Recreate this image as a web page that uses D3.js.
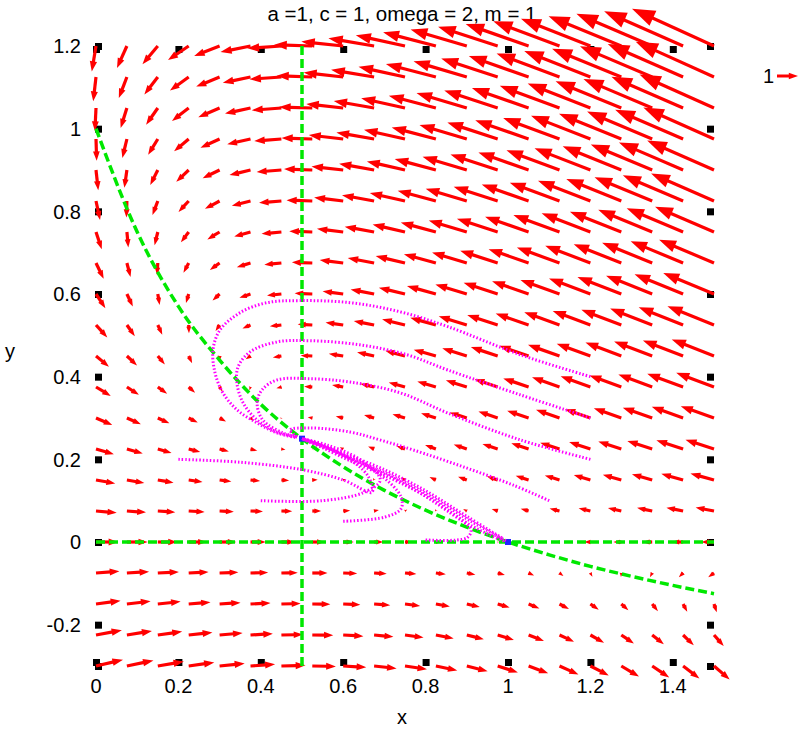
<!DOCTYPE html>
<html>
<head>
<meta charset="utf-8">
<script src="https://d3js.org/d3.v7.min.js"></script>
<style>
  body { margin: 0; background: #fff; }
  text { font-family: 'Liberation Sans', Arial, sans-serif; fill: #000; }
</style>
</head>
<body>
<svg width="799" height="729"></svg>
<script>
// DATA ========================================================
const title = "a =1, c = 1, omega = 2, m = 1";
const xTicks = [0, 0.2, 0.4, 0.6, 0.8, 1, 1.2, 1.4];
const yTicks = [-0.2, 0, 0.2, 0.4, 0.6, 0.8, 1, 1.2];

// grid of the vector field
const gridX = [0, 0.075, 0.15, 0.225, 0.3, 0.375, 0.45, 0.525, 0.6, 0.675, 0.75,
               0.825, 0.9, 0.975, 1.05, 1.125, 1.2, 1.275, 1.35, 1.425, 1.5];
const gridY = [-0.3, -0.225, -0.15, -0.075, 0, 0.075, 0.15, 0.225, 0.3, 0.375, 0.45,
               0.525, 0.6, 0.675, 0.75, 0.825, 0.9, 0.975, 1.05, 1.125, 1.2];

// x component, one row per gridY value
const fieldU = [
 [1.30,1.27,1.24,1.21,1.18,1.15,1.12,1.09,1.06,1.03,1.00,0.97,0.94,0.91,0.88,0.85,0.82,0.79,0.76,0.73,0.70],
 [1.23,1.18,1.14,1.10,1.06,1.02,0.98,0.94,0.90,0.85,0.81,0.77,0.73,0.69,0.65,0.61,0.57,0.52,0.48,0.44,0.40],
 [1.15,1.10,1.05,0.99,0.94,0.89,0.84,0.78,0.73,0.68,0.63,0.57,0.52,0.47,0.42,0.36,0.31,0.26,0.21,0.15,0.10],
 [1.08,1.01,0.95,0.88,0.82,0.76,0.69,0.63,0.57,0.50,0.44,0.37,0.31,0.25,0.18,0.12,0.06,-0.01,-0.07,-0.14,-0.20],
 [1.00,0.93,0.85,0.78,0.70,0.63,0.55,0.48,0.40,0.33,0.25,0.18,0.10,0.03,-0.05,-0.13,-0.20,-0.28,-0.35,-0.43,-0.50],
 [0.93,0.84,0.75,0.67,0.58,0.49,0.41,0.32,0.24,0.15,0.06,-0.02,-0.11,-0.20,-0.28,-0.37,-0.46,-0.54,-0.63,-0.71,-0.80],
 [0.85,0.75,0.66,0.56,0.46,0.36,0.27,0.17,0.07,-0.03,-0.13,-0.22,-0.32,-0.42,-0.52,-0.61,-0.71,-0.81,-0.91,-1.00,-1.10],
 [0.78,0.67,0.56,0.45,0.34,0.23,0.12,0.01,-0.10,-0.20,-0.31,-0.42,-0.53,-0.64,-0.75,-0.86,-0.97,-1.07,-1.18,-1.29,-1.40],
 [0.70,0.58,0.46,0.34,0.22,0.10,-0.02,-0.14,-0.26,-0.38,-0.50,-0.62,-0.74,-0.86,-0.98,-1.10,-1.22,-1.34,-1.46,-1.58,-1.70],
 [0.63,0.49,0.36,0.23,0.10,-0.03,-0.16,-0.29,-0.43,-0.56,-0.69,-0.82,-0.95,-1.08,-1.21,-1.34,-1.48,-1.61,-1.74,-1.87,-2.00],
 [0.55,0.41,0.27,0.12,-0.02,-0.16,-0.31,-0.45,-0.59,-0.73,-0.88,-1.02,-1.16,-1.30,-1.45,-1.59,-1.73,-1.87,-2.02,-2.16,-2.30],
 [0.48,0.32,0.17,0.01,-0.14,-0.29,-0.45,-0.60,-0.76,-0.91,-1.06,-1.22,-1.37,-1.52,-1.68,-1.83,-1.99,-2.14,-2.29,-2.45,-2.60],
 [0.40,0.24,0.07,-0.10,-0.26,-0.43,-0.59,-0.76,-0.92,-1.09,-1.25,-1.42,-1.58,-1.75,-1.91,-2.08,-2.24,-2.41,-2.57,-2.74,-2.90],
 [0.33,0.15,-0.03,-0.20,-0.38,-0.56,-0.73,-0.91,-1.09,-1.26,-1.44,-1.61,-1.79,-1.97,-2.14,-2.32,-2.50,-2.67,-2.85,-3.02,-3.20],
 [0.25,0.06,-0.13,-0.31,-0.50,-0.69,-0.88,-1.06,-1.25,-1.44,-1.63,-1.81,-2.00,-2.19,-2.38,-2.56,-2.75,-2.94,-3.13,-3.31,-3.50],
 [0.18,-0.02,-0.22,-0.42,-0.62,-0.82,-1.02,-1.22,-1.42,-1.61,-1.81,-2.01,-2.21,-2.41,-2.61,-2.81,-3.01,-3.20,-3.40,-3.60,-3.80],
 [0.10,-0.11,-0.32,-0.53,-0.74,-0.95,-1.16,-1.37,-1.58,-1.79,-2.00,-2.21,-2.42,-2.63,-2.84,-3.05,-3.26,-3.47,-3.68,-3.89,-4.10],
 [0.03,-0.20,-0.42,-0.64,-0.86,-1.08,-1.30,-1.52,-1.75,-1.97,-2.19,-2.41,-2.63,-2.85,-3.07,-3.29,-3.52,-3.74,-3.96,-4.18,-4.40],
 [-0.05,-0.28,-0.52,-0.75,-0.98,-1.21,-1.45,-1.68,-1.91,-2.14,-2.38,-2.61,-2.84,-3.07,-3.31,-3.54,-3.77,-4.00,-4.24,-4.47,-4.70],
 [-0.13,-0.37,-0.61,-0.86,-1.10,-1.34,-1.59,-1.83,-2.08,-2.32,-2.56,-2.81,-3.05,-3.29,-3.54,-3.78,-4.03,-4.27,-4.51,-4.76,-5.00],
 [-0.20,-0.46,-0.71,-0.97,-1.22,-1.48,-1.73,-1.99,-2.24,-2.50,-2.75,-3.01,-3.26,-3.52,-3.77,-4.03,-4.28,-4.54,-4.79,-5.05,-5.30]
];

// y component, one row per gridY value
const fieldV = [
 [0.30,0.26,0.21,0.17,0.12,0.08,0.03,-0.02,-0.06,-0.11,-0.15,-0.20,-0.24,-0.29,-0.33,-0.38,-0.42,-0.47,-0.51,-0.56,-0.60],
 [0.23,0.19,0.16,0.12,0.09,0.06,0.02,-0.01,-0.05,-0.08,-0.11,-0.15,-0.18,-0.21,-0.25,-0.28,-0.32,-0.35,-0.38,-0.42,-0.45],
 [0.15,0.13,0.11,0.08,0.06,0.04,0.02,-0.01,-0.03,-0.05,-0.08,-0.10,-0.12,-0.14,-0.17,-0.19,-0.21,-0.23,-0.26,-0.28,-0.30],
 [0.08,0.06,0.05,0.04,0.03,0.02,0.01,0.00,-0.02,-0.03,-0.04,-0.05,-0.06,-0.07,-0.08,-0.09,-0.11,-0.12,-0.13,-0.14,-0.15],
 [0,0,0,0,0,0,0,0,0,0,0,0,0,0,0,0,0,0,0,0,0],
 [-0.08,-0.06,-0.05,-0.04,-0.03,-0.02,-0.01,0.00,0.02,0.03,0.04,0.05,0.06,0.07,0.08,0.09,0.11,0.12,0.13,0.14,0.15],
 [-0.15,-0.13,-0.11,-0.08,-0.06,-0.04,-0.02,0.01,0.03,0.05,0.08,0.10,0.12,0.14,0.17,0.19,0.21,0.23,0.26,0.28,0.30],
 [-0.23,-0.19,-0.16,-0.12,-0.09,-0.06,-0.02,0.01,0.05,0.08,0.11,0.15,0.18,0.21,0.25,0.28,0.32,0.35,0.38,0.42,0.45],
 [-0.30,-0.26,-0.21,-0.17,-0.12,-0.08,-0.03,0.02,0.06,0.11,0.15,0.20,0.24,0.29,0.33,0.38,0.42,0.47,0.51,0.56,0.60],
 [-0.38,-0.32,-0.26,-0.21,-0.15,-0.09,-0.04,0.02,0.08,0.13,0.19,0.24,0.30,0.36,0.41,0.47,0.53,0.58,0.64,0.69,0.75],
 [-0.45,-0.38,-0.32,-0.25,-0.18,-0.11,-0.05,0.02,0.09,0.16,0.23,0.29,0.36,0.43,0.50,0.56,0.63,0.70,0.77,0.83,0.90],
 [-0.53,-0.45,-0.37,-0.29,-0.21,-0.13,-0.05,0.03,0.11,0.18,0.26,0.34,0.42,0.50,0.58,0.66,0.74,0.81,0.89,0.97,1.05],
 [-0.60,-0.51,-0.42,-0.33,-0.24,-0.15,-0.06,0.03,0.12,0.21,0.30,0.39,0.48,0.57,0.66,0.75,0.84,0.93,1.02,1.11,1.20],
 [-0.68,-0.57,-0.47,-0.37,-0.27,-0.17,-0.07,0.03,0.14,0.24,0.34,0.44,0.54,0.64,0.74,0.84,0.95,1.05,1.15,1.25,1.35],
 [-0.75,-0.64,-0.53,-0.41,-0.30,-0.19,-0.08,0.04,0.15,0.26,0.38,0.49,0.60,0.71,0.83,0.94,1.05,1.16,1.28,1.39,1.50],
 [-0.83,-0.70,-0.58,-0.45,-0.33,-0.21,-0.08,0.04,0.17,0.29,0.41,0.54,0.66,0.78,0.91,1.03,1.16,1.28,1.40,1.53,1.65],
 [-0.90,-0.77,-0.63,-0.50,-0.36,-0.23,-0.09,0.05,0.18,0.32,0.45,0.59,0.72,0.86,0.99,1.13,1.26,1.40,1.53,1.67,1.80],
 [-0.98,-0.83,-0.68,-0.54,-0.39,-0.24,-0.10,0.05,0.20,0.34,0.49,0.63,0.78,0.93,1.07,1.22,1.37,1.51,1.66,1.80,1.95],
 [-1.05,-0.89,-0.74,-0.58,-0.42,-0.26,-0.11,0.05,0.21,0.37,0.53,0.68,0.84,1.00,1.16,1.31,1.47,1.63,1.79,1.94,2.10],
 [-1.13,-0.96,-0.79,-0.62,-0.45,-0.28,-0.11,0.06,0.23,0.39,0.56,0.73,0.90,1.07,1.24,1.41,1.58,1.74,1.91,2.08,2.25],
 [-1.20,-1.02,-0.84,-0.66,-0.48,-0.30,-0.12,0.06,0.24,0.42,0.60,0.78,0.96,1.14,1.32,1.50,1.68,1.86,2.04,2.22,2.40]
];

// nullclines (green)
const nullCurveX = [0, 0.1, 0.2, 0.3, 0.4, 0.5, 0.6, 0.7, 0.8, 0.9, 1.0, 1.1, 1.2, 1.3, 1.4, 1.5];
const nullCurveY = [1.0, 0.75, 0.57, 0.44, 0.333, 0.25, 0.182, 0.125, 0.077, 0.036, 0, -0.031, -0.059, -0.083, -0.105, -0.125];
const nullVertical = [[0.5, -0.3], [0.5, 1.2]];
const nullHorizontal = [[0, 0], [1.5, 0]];

// fixed points
const fixedPoints = [[1, 0], [0.5, 0.25]];

// trajectories (magenta)
const traj1 = [[1.2,0.4],[1.03,0.453],[0.854,0.521],[0.738,0.557],[0.617,0.579],[0.495,0.584],[0.415,0.579],
  [0.35,0.555],[0.301,0.513],[0.284,0.465],[0.289,0.409],[0.308,0.361],[0.342,0.32],[0.391,0.288],[0.439,0.264],[0.488,0.252]];
const traj2 = [[1.2,0.3],[1.03,0.356],[0.854,0.416],[0.755,0.453],[0.641,0.477],[0.519,0.487],[0.439,0.484],
  [0.374,0.46],[0.345,0.424],[0.342,0.385],[0.357,0.337],[0.391,0.295],[0.439,0.266],[0.488,0.254]];
const traj3 = [[1.2,0.2],[1.03,0.247],[0.854,0.312],[0.738,0.361],[0.617,0.387],[0.519,0.395],[0.439,0.392],
  [0.403,0.368],[0.391,0.337],[0.405,0.295],[0.454,0.264],[0.488,0.254]];
const traj4 = [[1.1,0.1],[1.012,0.138],[0.891,0.182],[0.769,0.223],[0.689,0.247],[0.617,0.266],[0.519,0.276],
  [0.471,0.271],[0.488,0.254]];
const traj5 = [[0.2,0.2],[0.35,0.193],[0.5,0.175],[0.6,0.15],[0.67,0.12],[0.66,0.16],[0.6,0.21],[0.53,0.24],[0.5,0.25]];
const traj6 = [[0.4,0.1],[0.55,0.1],[0.65,0.12],[0.69,0.15],[0.64,0.2],[0.56,0.235],[0.5,0.25]];
const traj7 = [[0.6,0.05],[0.7,0.06],[0.74,0.08],[0.74,0.11],[0.68,0.17],[0.58,0.22],[0.5,0.25]];
const traj8 = [[0.8,0.005],[0.9,0.01],[0.91,0.03],[0.86,0.07],[0.75,0.14],[0.62,0.2],[0.5,0.25]];
const traj9 = [[0.995,0.003],[0.91,0.05],[0.81,0.112],[0.714,0.162],[0.617,0.203],[0.544,0.235],[0.5,0.25]];
const traj10 = [[0.985,0.01],[0.9,0.062],[0.8,0.124],[0.7,0.175],[0.6,0.215],[0.535,0.24],[0.5,0.25]];
const traj11 = [[0.99,0.002],[0.91,0.04],[0.82,0.1],[0.72,0.152],[0.62,0.195],[0.55,0.228],[0.5,0.25]];
const trajectories = [traj1, traj2, traj3, traj4, traj5, traj6, traj7, traj8, traj9, traj10, traj11];

// SETUP =======================================================
const svg = d3.select("svg");
const x = d3.scaleLinear().domain([0, 1.5]).range([96, 714]);
const y = d3.scaleLinear().domain([-0.3, 1.2]).range([666, 46]);
const red = "#ff0000", green = "#00e800", magenta = "#ff00ff";
const fmt = d => String(d);

// TICK SQUARES ================================================
const sq = 7;
const ticks = svg.append("g").attr("fill", "#000");
xTicks.concat([0]).forEach(t => {
    ticks.append("rect").attr("x", x(t) - 3).attr("y", y(1.2)).attr("width", sq).attr("height", sq);
    ticks.append("rect").attr("x", x(t) - 3).attr("y", y(-0.3) - sq).attr("width", sq).attr("height", sq);
});
yTicks.concat([-0.3, 1.2]).forEach(t => {
    ticks.append("rect").attr("x", x(0) - 1).attr("y", y(t) - 3).attr("width", sq).attr("height", sq);
    ticks.append("rect").attr("x", x(1.5) - sq).attr("y", y(t) - 3).attr("width", sq).attr("height", sq);
});

// LABELS ======================================================
svg.append("g").selectAll("text").data(xTicks).join("text")
    .attr("x", d => x(d)).attr("y", 693)
    .attr("text-anchor", "middle").attr("font-size", 20)
    .text(fmt);
svg.append("g").selectAll("text").data(yTicks).join("text")
    .attr("x", 81).attr("y", d => y(d)).attr("dy", "0.36em")
    .attr("text-anchor", "end").attr("font-size", 20)
    .text(fmt);
svg.append("text").attr("x", 402).attr("y", 724).attr("text-anchor", "middle")
    .attr("font-size", 20).text("x");
svg.append("text").attr("x", 10).attr("y", 358).attr("text-anchor", "middle")
    .attr("font-size", 20).text("y");
svg.append("text").attr("x", 402).attr("y", 21).attr("text-anchor", "middle")
    .attr("font-size", 20.5).text(title);

// VECTOR FIELD ================================================
const arrows = [];
gridY.forEach((gy, i) => gridX.forEach((gx, j) => {
    arrows.push({x: gx, y: gy, u: fieldU[i][j], v: fieldV[i][j]});
}));

function arrowPath(x0, y0, x1, y1) {
    const dx = x1 - x0, dy = y1 - y0;
    const L = Math.hypot(dx, dy);
    if (L < 0.5) return "";
    const ux = dx / L, uy = dy / L;
    const h = Math.min(L, 5 + 0.2 * L), w = 0.36 * h;
    const bx = x1 - ux * h, by = y1 - uy * h;
    return `M${bx},${by}L${bx - uy * w},${by + ux * w}L${x1},${y1}L${bx + uy * w},${by - ux * w}Z`;
}

const field = svg.append("g");
arrows.forEach(a => {
    const mag = Math.hypot(a.u, a.v);
    if (mag === 0) return;
    const f = 0.0534 * Math.pow(mag, -0.2);
    const x0 = x(a.x), y0 = y(a.y);
    const x1 = x(a.x + a.u * f), y1 = y(a.y + a.v * f);
    const L = Math.hypot(x1 - x0, y1 - y0);
    if (L < 0.5) return;
    const h = Math.min(L, 5 + 0.2 * L);
    field.append("line")
        .attr("x1", x0).attr("y1", y0)
        .attr("x2", x1 - (x1 - x0) / L * h * 0.9).attr("y2", y1 - (y1 - y0) / L * h * 0.9)
        .attr("stroke", red).attr("stroke-width", 3.2);
    field.append("path").attr("d", arrowPath(x0, y0, x1, y1)).attr("fill", red);
});

// NULLCLINES ==================================================
const line = d3.line().x(d => x(d[0])).y(d => y(d[1]));
const nullG = svg.append("g").attr("fill", "none").attr("stroke", green)
    .attr("stroke-width", 3.5).attr("stroke-dasharray", "9,4");
nullG.append("path").attr("d", line(nullVertical));
nullG.append("path").attr("d", line(nullHorizontal));
nullG.append("path").attr("d", line.curve(d3.curveMonotoneX)(nullCurveX.map((d, i) => [d, nullCurveY[i]])));

// FIXED POINTS ================================================
svg.append("g").selectAll("rect").data(fixedPoints).join("rect")
    .attr("x", d => x(d[0]) - 3).attr("y", d => y(d[1]) - 3)
    .attr("width", 6).attr("height", 6).attr("fill", "#2222ff");

// TRAJECTORIES ================================================
const curve = d3.line().x(d => x(d[0])).y(d => y(d[1])).curve(d3.curveCatmullRom);
svg.append("g").selectAll("path").data(trajectories).join("path")
    .attr("d", curve).attr("fill", "none").attr("stroke", magenta)
    .attr("stroke-width", 3).attr("stroke-dasharray", "1.5,2");

// LEGEND ======================================================
svg.append("text").attr("x", 774).attr("y", 76).attr("dy", "0.36em")
    .attr("text-anchor", "end").attr("font-size", 20).text("1");
svg.append("line").attr("x1", 777).attr("y1", 76).attr("x2", 790).attr("y2", 76)
    .attr("stroke", red).attr("stroke-width", 3);
svg.append("path").attr("d", arrowPath(777, 76, 798, 76)).attr("fill", red);
</script>
</body>
</html>
